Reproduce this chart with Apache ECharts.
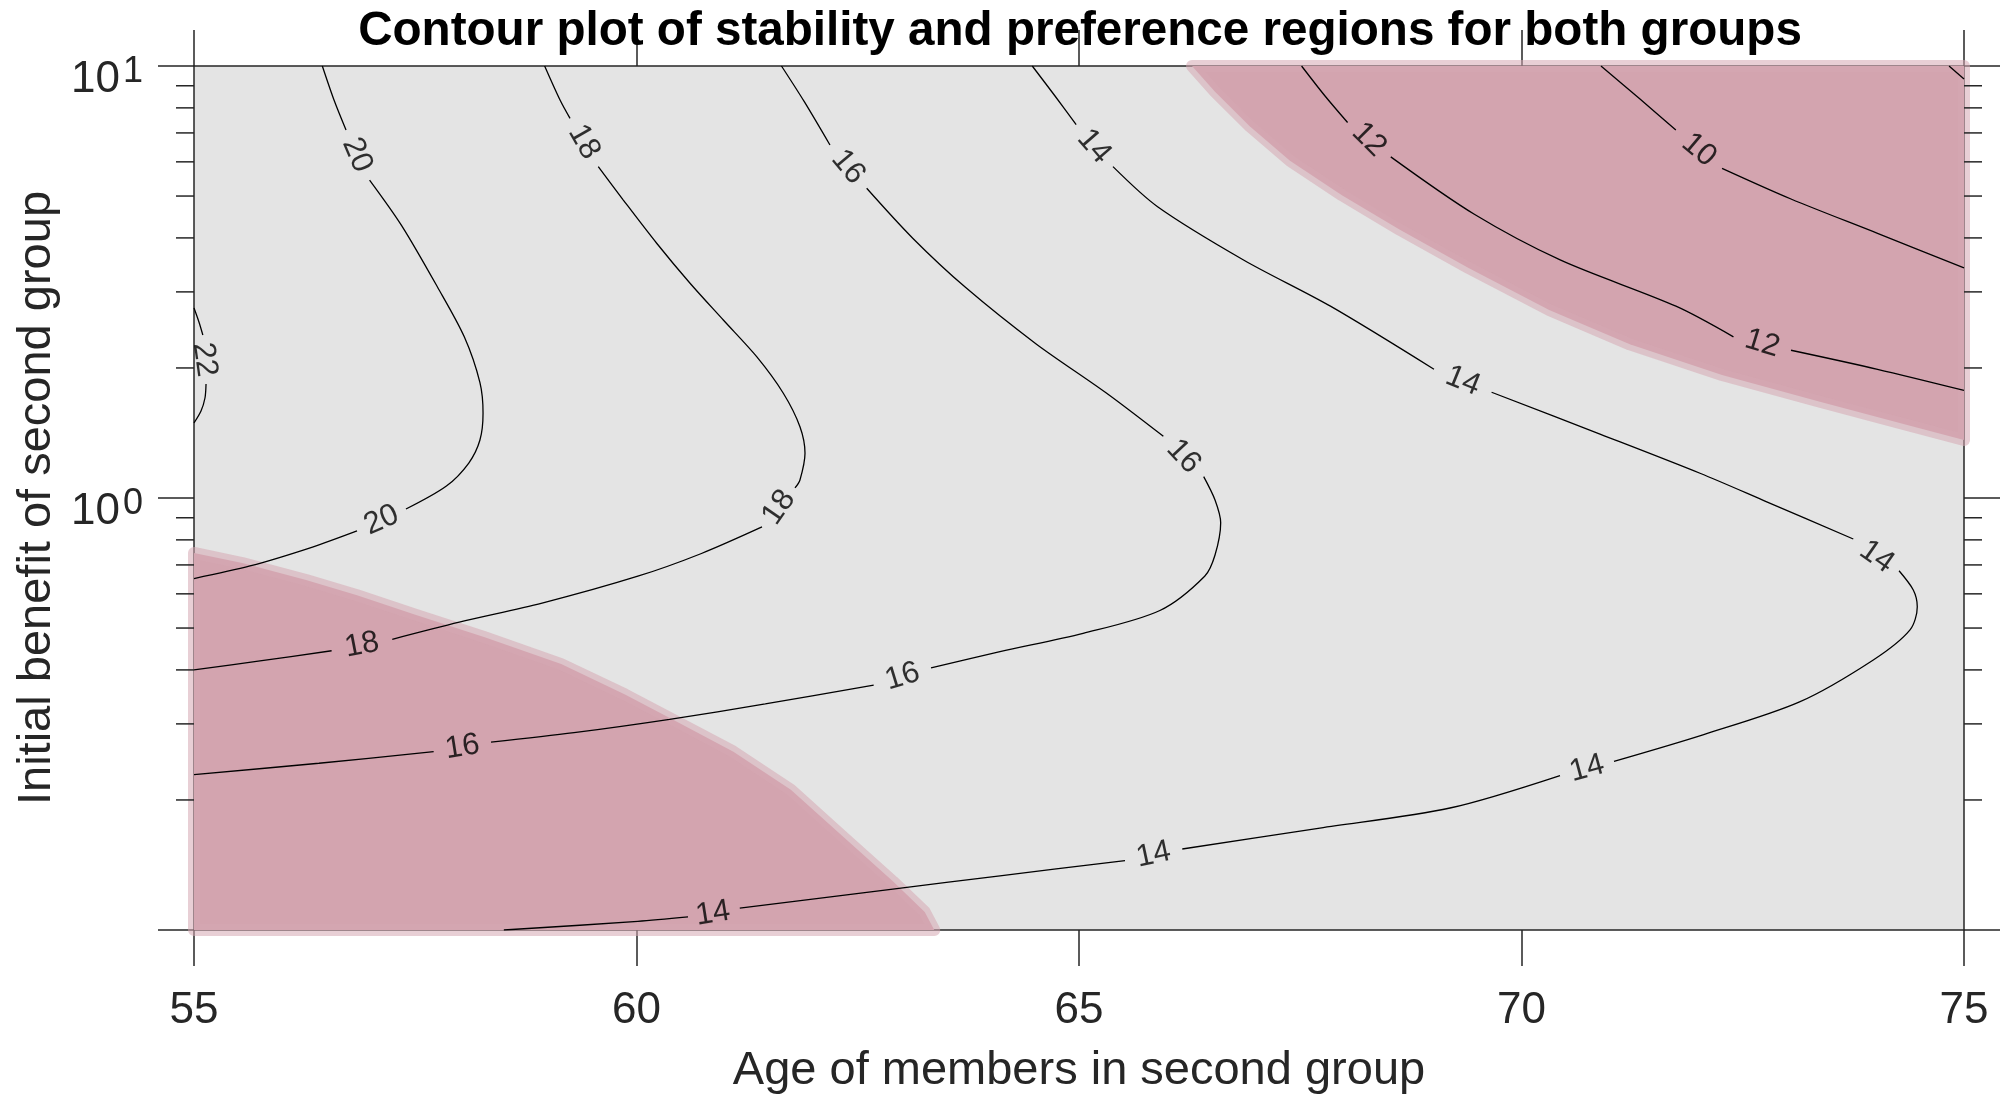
<!DOCTYPE html>
<html><head><meta charset="utf-8">
<script src="https://cdn.jsdelivr.net/npm/echarts@6/dist/echarts.min.js"></script>
<style>html,body{margin:0;padding:0;background:#fff}#main{width:2003px;height:1098px}</style>
</head><body><div id="main"></div>
<script>
// ---------- DATA ----------
const titleText = 'Contour plot of stability and preference regions for both groups';
const xAxisName = 'Age of members in second group';
const yAxisName = 'Initial benefit of second group';
const xTickValues = [55, 60, 65, 70, 75];
const yMinorTicks = [0.2, 0.3, 0.4, 0.5, 0.6, 0.7, 0.8, 0.9, 2, 3, 4, 5, 6, 7, 8, 9];

// contour lines: each is a list of segments (gaps where the level labels sit), points [age, benefit]
const contour22 = [
  [[55, 2.754], [55.056, 2.556], [55.10, 2.384]],
  [[55.136, 1.836], [55.124, 1.704], [55.079, 1.590], [55, 1.492]]
];
const contour20 = [
  [[56.450, 10], [56.582, 8.342], [56.718, 7.109]],
  [[56.984, 5.446], [57.348, 4.267], [57.751, 3.079], [58.054, 2.361], [58.231, 1.849], [58.266, 1.571],
   [58.231, 1.362], [58.105, 1.205], [57.852, 1.066], [57.395, 0.943]],
  [[56.842, 0.839], [56.339, 0.770], [55.633, 0.696], [55, 0.651]]
];
const contour18 = [
  [[58.962, 10], [59.136, 8.342], [59.249, 7.565]],
  [[59.568, 5.847], [59.851, 4.895], [60.228, 3.888], [60.605, 3.141], [60.981, 2.582], [61.358, 2.124],
   [61.659, 1.748], [61.847, 1.462], [61.904, 1.269], [61.847, 1.101], [61.791, 1.055]],
  [[61.418, 0.857], [60.734, 0.744], [60.015, 0.659], [58.933, 0.571], [57.997, 0.516], [57.240, 0.471]],
  [[56.555, 0.443], [55.746, 0.4195], [55, 0.400]]
];
const contour16 = [
  [[61.638, 10], [61.896, 8.268], [62.186, 6.563]],
  [[62.601, 5.211], [63.124, 3.988], [63.720, 3.069], [64.512, 2.276], [65.305, 1.752], [65.953, 1.389]],
  [[66.409, 1.121], [66.537, 0.9895], [66.601, 0.876], [66.537, 0.738], [66.420, 0.659], [65.914, 0.549],
   [65.047, 0.486], [64.107, 0.441], [63.328, 0.4045]],
  [[62.680, 0.369], [61.455, 0.3336], [60.374, 0.3074], [59.294, 0.2863], [58.356, 0.2721]],
  [[57.708, 0.2587], [56.411, 0.2432], [55, 0.2289]]
];
const contour14 = [
  [[64.472, 10], [64.729, 8.522], [64.968, 7.320]],
  [[65.384, 5.849], [65.888, 4.724], [66.864, 3.552], [67.841, 2.780], [69.011, 1.986]],
  [[69.662, 1.757], [70.887, 1.406], [72.017, 1.141], [72.771, 0.980], [73.749, 0.8037]],
  [[74.266, 0.6786], [74.427, 0.6124], [74.472, 0.5604], [74.390, 0.4951], [73.975, 0.4217], [73.142, 0.3372],
   [72.059, 0.2834], [71.045, 0.2457]],
  [[70.435, 0.2278], [69.192, 0.1916], [67.722, 0.1722], [66.167, 0.1540]],
  [[65.520, 0.1448], [64.107, 0.1335], [62.897, 0.1244], [61.167, 0.1124]],
  [[60.582, 0.1072], [60.015, 0.1047], [58.501, 0.1]]
];
const contour12 = [
  [[67.515, 10], [67.780, 8.522], [68.035, 7.398]],
  [[68.523, 6.161], [69.467, 4.537], [70.443, 3.552], [71.745, 2.780], [72.395, 2.361]],
  [[73.045, 2.198], [74.023, 1.986], [75, 1.775]]
];
const contour10 = [
  [[70.898, 10], [71.339, 8.387], [71.744, 7.106]],
  [[72.266, 5.795], [73.045, 4.922], [74.023, 4.099], [75, 3.409]]
];
const contour8 = [
  [[74.831, 10], [75, 9.331]]
];

// level labels
const labelText = ['22', '20', '20', '18', '18', '18', '16', '16', '16', '16', '14', '14', '14', '14', '14', '14', '12', '12', '10'];
const labelAge = [55.119, 56.842, 57.119, 59.407, 61.610, 56.898, 62.390, 66.181, 63.005, 58.033, 65.169, 69.339, 74.013, 70.740, 65.842, 60.864, 68.277, 72.721, 72.005];
const labelBenefit = [2.092, 6.223, 0.889, 6.672, 0.951, 0.4567, 5.838, 1.248, 0.386, 0.2652, 6.512, 1.866, 0.731, 0.2365, 0.1494, 0.1092, 6.753, 2.279, 6.392];

// shaded (stable & preferred) regions: boundary polygons [age, benefit]
const regionLowerLeft = [[55, 0.1], [55, 0.746], [55.546, 0.707], [56.266, 0.646], [56.842, 0.5954], [57.492, 0.5377],
  [58.285, 0.476], [59.149, 0.4127], [59.870, 0.3508], [60.446, 0.3043], [61.095, 0.2587], [61.744, 0.2111],
  [62.320, 0.1654], [62.897, 0.1296], [63.257, 0.1101], [63.365, 0.1]];
const regionUpperRight = [[66.277, 10], [66.537, 8.716], [66.929, 7.252], [67.384, 6.036], [67.971, 5.023],
  [68.621, 4.181], [69.402, 3.409], [70.313, 2.724], [71.224, 2.268], [72.266, 1.926], [73.372, 1.670],
  [74.348, 1.477], [75, 1.362], [75, 10]];

// ---------- STYLE ----------
const FONT = "'Liberation Sans', Arial, Helvetica, sans-serif";
const AXIS_COLOR = '#262626';
const labelRotation = [-82, -67, 24, -60, 55, 11, -50, -47, 17, 9, -49, -22, -35, 15, 12, 9, -45, -17, -40];
const regionFill = 'rgb(211,164,175)';
const regionEdge = 'rgba(213,167,178,0.55)';

const chart = echarts.init(document.getElementById('main'), null, {renderer: 'canvas'});

function lineSeries(segs) {
  return segs.map(seg => ({
    type: 'line', data: seg, symbol: 'none', smooth: 0.3, silent: true,
    lineStyle: {color: '#000', width: 1.3}, z: 5, animation: false
  }));
}
function regionSeries(poly) {
  return {
    type: 'custom', coordinateSystem: 'cartesian2d', data: [[60, 1]], clip: false, z: 2, silent: true,
    renderItem: (params, api) => ({
      type: 'polygon',
      shape: {points: poly.map(p => api.coord(p))},
      style: {fill: regionFill, stroke: regionEdge, lineWidth: 12, lineJoin: 'round'}
    })
  };
}

const series = [
  regionSeries(regionLowerLeft),
  regionSeries(regionUpperRight),
  ...lineSeries(contour22), ...lineSeries(contour20), ...lineSeries(contour18),
  ...lineSeries(contour16), ...lineSeries(contour14), ...lineSeries(contour12),
  ...lineSeries(contour10), ...lineSeries(contour8),
  {
    type: 'scatter', symbolSize: 1, itemStyle: {color: 'rgba(0,0,0,0)'}, z: 6, silent: true,
    data: labelText.map((t, i) => ({
      name: t, value: [labelAge[i], labelBenefit[i]],
      label: {rotate: labelRotation[i]}
    })),
    label: {show: true, position: 'inside', formatter: p => p.name, fontSize: 31, color: '#000', fontFamily: FONT}
  },
  {
    type: 'custom', coordinateSystem: 'cartesian2d', clip: false, silent: true, z: 7,
    data: yMinorTicks.map(v => [55, v]),
    renderItem: (params, api) => {
      const y = api.coord([55, api.value(1)])[1];
      const xl = api.coord([xTickValues[0], 1])[0];
      const xr = api.coord([xTickValues[xTickValues.length - 1], 1])[0];
      const st = {stroke: AXIS_COLOR, lineWidth: 1.5};
      return {type: 'group', children: [
        {type: 'line', shape: {x1: xl - 18, y1: y, x2: xl, y2: y}, style: st},
        {type: 'line', shape: {x1: xr, y1: y, x2: xr + 18, y2: y}, style: st}
      ]};
    }
  }
];

const option = {
  animation: false,
  backgroundColor: '#ffffff',
  title: {
    text: titleText, left: 1075, top: 3, textAlign: 'center',
    textStyle: {fontFamily: FONT, fontSize: 47.6, fontWeight: 'bold', color: '#000'}
  },
  grid: {left: 194, right: 39, top: 66, bottom: 168, containLabel: false, outerBoundsMode: 'none',
    show: true, backgroundColor: '#e4e4e4', borderWidth: 0},
  xAxis: [
    {
      type: 'value', min: 55, max: 75, interval: 5, position: 'bottom',
      name: xAxisName, nameLocation: 'middle', nameGap: 118,
      nameTextStyle: {fontFamily: FONT, fontSize: 47, color: AXIS_COLOR},
      axisLine: {show: true, lineStyle: {color: AXIS_COLOR, width: 1.5}},
      axisTick: {show: true, inside: false, length: 36, lineStyle: {color: AXIS_COLOR, width: 1.5}},
      axisLabel: {fontFamily: FONT, fontSize: 44, color: AXIS_COLOR, margin: 59},
      splitLine: {show: false}
    },
    {
      type: 'value', min: 55, max: 75, interval: 5, position: 'top',
      axisLine: {show: true, lineStyle: {color: AXIS_COLOR, width: 1.5}},
      axisTick: {show: true, inside: false, length: 36, lineStyle: {color: AXIS_COLOR, width: 1.5}},
      axisLabel: {show: false}, splitLine: {show: false}
    }
  ],
  yAxis: [
    {
      type: 'log', logBase: 10, min: 0.1, max: 10, position: 'left',
      name: yAxisName, nameLocation: 'middle', nameGap: 112,
      nameTextStyle: {fontFamily: FONT, fontSize: 47, color: AXIS_COLOR},
      axisLine: {show: true, lineStyle: {color: AXIS_COLOR, width: 1.5}},
      axisTick: {show: true, inside: false, length: 36, lineStyle: {color: AXIS_COLOR, width: 1.5}},
      axisLabel: {
        showMinLabel: true, showMaxLabel: true, margin: 51,
        formatter: v => {
          if (Math.abs(v - 10) < 1e-6) return '{b|10}{s|1}';
          if (Math.abs(v - 1) < 1e-6) return '{b|10}{s|0}';
          return '';
        },
        rich: {
          b: {fontFamily: FONT, fontSize: 44, color: AXIS_COLOR, lineHeight: 44, padding: [28, 0, 0, 0]},
          s: {fontFamily: FONT, fontSize: 36, color: AXIS_COLOR, lineHeight: 36, verticalAlign: 'top', padding: [10, 0, 0, 3]}
        }
      },
      splitLine: {show: false}, minorTick: {show: false}
    },
    {
      type: 'log', logBase: 10, min: 0.1, max: 10, position: 'right',
      axisLine: {show: true, lineStyle: {color: AXIS_COLOR, width: 1.5}},
      axisTick: {show: true, inside: false, length: 36, lineStyle: {color: AXIS_COLOR, width: 1.5}},
      axisLabel: {show: false}, splitLine: {show: false}
    }
  ],
  series: series
};
chart.setOption(option);
</script>
</body></html>
